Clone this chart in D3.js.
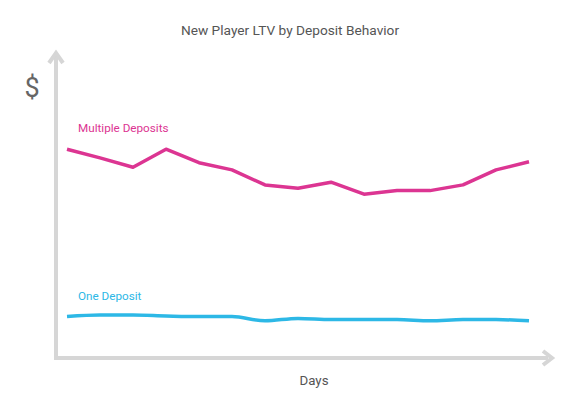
<!DOCTYPE html>
<html>
<head>
<meta charset="utf-8">
<script src="https://cdn.jsdelivr.net/npm/d3@7/dist/d3.min.js"></script>
<style>
  body { margin: 0; background: #fff; }
  text { font-family: Roboto, "Open Sans", sans-serif; }
</style>
</head>
<body>
<script>
var width = 580;
var height = 399;

// days along the x axis
var days = [1, 2, 3, 4, 5, 6, 7, 8, 9, 10, 11, 12, 13, 14, 15];
// LTV, arbitrary units (axis has no ticks)
var multipleDeposits = [69.6, 66.7, 63.6, 69.6, 65.1, 62.7, 57.7, 56.6, 58.6, 54.6, 55.8, 55.8, 57.7, 62.7, 65.4];
var oneDeposit = [13.8, 14.3, 14.3, 14.0, 13.8, 13.8, 12.4, 13.2, 12.8, 12.8, 12.8, 12.4, 12.8, 12.8, 12.4];

var pink = "#dc3592";
var blue = "#2db8e6";
var axisGrey = "#d6d6d6";

var x = d3.scaleLinear()
  .domain([1, 15])
  .range([67, 529]);

var y = d3.scaleLinear()
  .domain([0, 100])
  .range([358, 58]);

var svg = d3.select("body")
  .append("svg")
  .attr("width", width)
  .attr("height", height);

// title
svg.append("text")
  .attr("x", 290)
  .attr("y", 35)
  .attr("text-anchor", "middle")
  .attr("font-size", 13.7)
  .attr("fill", "#555")
  .text("New Player LTV by Deposit Behavior");

// axes drawn as arrows
svg.append("path")
  .attr("d", "M" + 56 + "," + 56 + "V" + 358 + "H" + 548)
  .attr("fill", "none")
  .attr("stroke", axisGrey)
  .attr("stroke-width", 4);

svg.append("path")
  .attr("d", "M49,63 L56,53 L63,63")
  .attr("fill", "none")
  .attr("stroke", axisGrey)
  .attr("stroke-width", 4);

svg.append("path")
  .attr("d", "M543,351 L552,358 L543,365")
  .attr("fill", "none")
  .attr("stroke", axisGrey)
  .attr("stroke-width", 4);

svg.append("text")
  .attr("x", 32)
  .attr("y", 97)
  .attr("text-anchor", "middle")
  .attr("font-size", 27)
  .attr("fill", "#666")
  .text("$");

svg.append("text")
  .attr("x", 314)
  .attr("y", 385)
  .attr("text-anchor", "middle")
  .attr("font-size", 13.3)
  .attr("fill", "#555")
  .text("Days");

var series = [
  {name: "Multiple Deposits", values: multipleDeposits, color: pink, labelY: 132, curve: d3.curveLinear},
  {name: "One Deposit", values: oneDeposit, color: blue, labelY: 300, curve: d3.curveMonotoneX}
];

series.forEach(function(s) {
  var line = d3.line()
    .x(function(d, i) { return x(days[i]); })
    .y(function(d) { return y(d); })
    .curve(s.curve);

  svg.append("path")
    .datum(s.values)
    .attr("d", line)
    .attr("fill", "none")
    .attr("stroke", s.color)
    .attr("stroke-width", 3.5)
    .attr("stroke-linejoin", "round");

  svg.append("text")
    .attr("x", 78)
    .attr("y", s.labelY)
    .attr("font-size", 11.7)
    .attr("fill", s.color)
    .text(s.name);
});
</script>
</body>
</html>
